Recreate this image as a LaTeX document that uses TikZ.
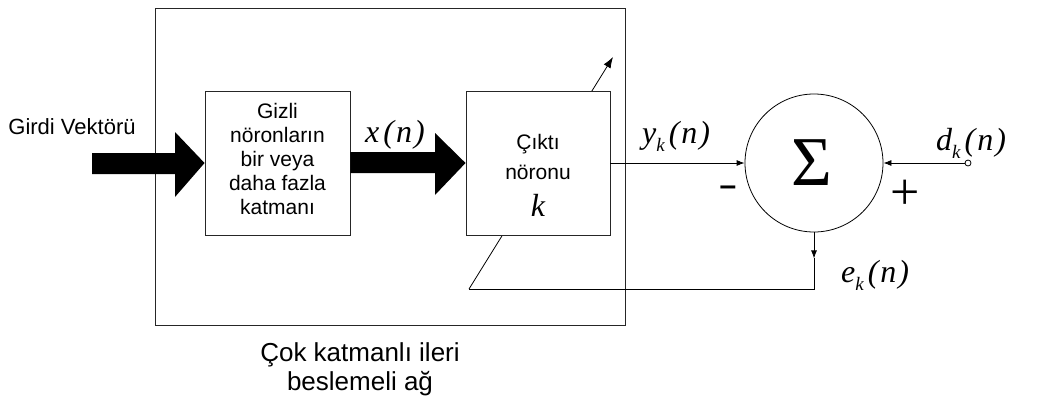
\documentclass[tikz,border=0pt]{standalone}
\usepackage{fontspec}
\setmainfont{Liberation Sans}
\newfontfamily\serif{Liberation Serif}
\usetikzlibrary{arrows.meta}
\newcommand{\msb}[1]{\raisebox{-8pt}{\fontsize{19}{19}\selectfont\serif\itshape #1}}
\newcommand{\pn}{\kern4pt(\kern2pt n\kern2pt)}
\tikzset{
  boxsty/.style={draw=black!85, line width=0.9pt, fill=white, inner sep=0pt},
  txt/.style={font=\fontsize{21}{24}\selectfont, inner sep=0pt, align=center},
  mathlab/.style={font=\fontsize{32}{34}\selectfont\serif\itshape, inner sep=0pt},
  thin/.style={line width=0.8pt},
  arr/.style={thin, -{Latex[length=8pt,width=6pt]}},
  bigarrow/.style={fill=black, draw=none}
}
\begin{document}
\begin{tikzpicture}[x=1pt,y=-1pt]
\useasboundingbox (0,0) rectangle (1045,408);
% outer network box
\node[boxsty, fill=none, minimum width=470pt, minimum height=317pt] (net) at (390,166.5) {};
% diagonal adjustment arrow (behind output box)
\coordinate (fb) at (469,289);
\coordinate (adj) at (613,57);
\draw[thin, -{Latex[length=11pt,width=8pt]}] (fb) -- (adj);
% boxes
\node[boxsty, minimum width=145pt, minimum height=144pt] (hid) at (277.5,163) {};
\node[boxsty, minimum width=144pt, minimum height=144pt] (out) at (538,163) {};
\node[txt] (hidtxt) at (277.5,159) {Gizli\\nöronların\\bir veya\\daha fazla\\katmanı};
\node[txt] (outtxt1) at (538,144) {Çıktı};
\node[txt] (outtxt2) at (538,172) {nöronu};
\node[mathlab] (k) at (538,205) {k};
% big arrows
\draw[bigarrow] (92,153) -- (175,153) -- (175,132) -- (hid.west) -- (175,197) -- (175,174) -- (92,174) -- cycle;
\draw[bigarrow] (hid.east |- 0,152) -- (435,152) -- (435,133) -- (out.west) -- (435,195) -- (435,173) -- (hid.east |- 0,173) -- cycle;
\node[font=\fontsize{22}{24}\selectfont, inner sep=0pt] (girdi) at (72,127) {Girdi Vektörü};
\node[mathlab, anchor=base west] (xn) at (365,142) {x\pn};
% sum
\node[draw, thin, circle, minimum size=138pt, inner sep=0pt] (sum) at (814,163) {};
\node[font=\fontsize{70}{70}\selectfont\serif, inner sep=0pt] (sig) at (812,163) {Σ};
\node[draw, thin, circle, minimum size=6pt, inner sep=0pt, fill=white] (din) at (968,163) {};
\draw[arr] (out.east) -- (sum.west);
\draw[arr] (din.west) -- (sum.east);
\draw[arr] (sum.south) -- ++(0,26) coordinate (ekm);
\draw[thin] (ekm) |- (fb);
% labels
\node[mathlab, anchor=base west] (yk) at (642,143) {y\msb{k}\pn};
\node[mathlab, anchor=base west] (dk) at (936,150) {d\msb{k}\pn};
\node[mathlab, anchor=base west] (ek) at (841,282) {e\msb{k}\pn};
\node[font=\bfseries\fontsize{30}{30}\selectfont, inner sep=0pt] (minus) at (728,191) {–};
\node[font=\fontsize{52}{52}\selectfont\serif, inner sep=0pt] (plus) at (905,195) {+};
\node[font=\fontsize{26}{29}\selectfont, align=center, inner sep=0pt] (cap) at (360,369) {Çok katmanlı ileri\\beslemeli ağ};
\end{tikzpicture}
\end{document}
